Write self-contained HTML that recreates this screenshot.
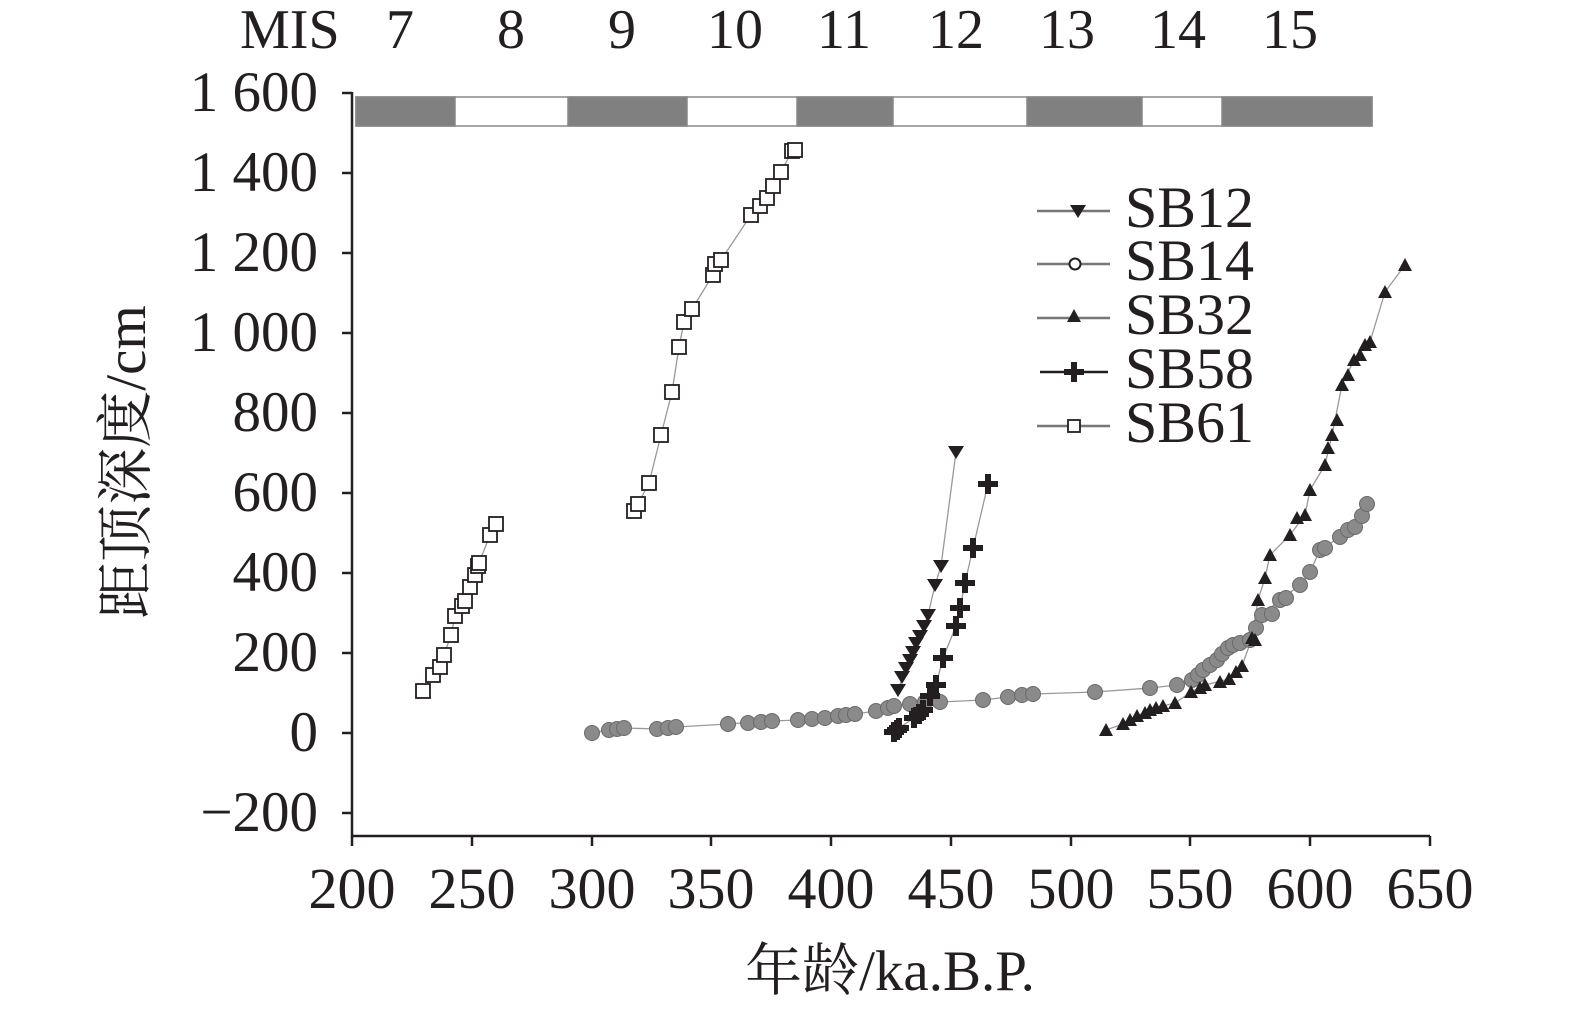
<!DOCTYPE html>
<html><head><meta charset="utf-8"><style>body{margin:0;background:#fff}svg{display:block}text{font-family:"Liberation Serif","Noto Serif CJK SC",serif;fill:#231f20}</style></head><body>
<svg width="1575" height="1015" viewBox="0 0 1575 1015">
<g font-size="56">
<text x="240" y="48">MIS</text>
<text x="400" y="48" text-anchor="middle">7</text><text x="511" y="48" text-anchor="middle">8</text><text x="622" y="48" text-anchor="middle">9</text><text x="735" y="48" text-anchor="middle">10</text><text x="844" y="48" text-anchor="middle">11</text><text x="956" y="48" text-anchor="middle">12</text><text x="1067" y="48" text-anchor="middle">13</text><text x="1178" y="48" text-anchor="middle">14</text><text x="1290" y="48" text-anchor="middle">15</text>
</g>
<g stroke="#888" stroke-width="1.5">
<rect x="356" y="97" width="1016" height="29" fill="#fff"/>
<rect x="356" y="97" width="99" height="29" fill="#808080"/>
<rect x="568" y="97" width="119" height="29" fill="#808080"/>
<rect x="797" y="97" width="96" height="29" fill="#808080"/>
<rect x="1027" y="97" width="115" height="29" fill="#808080"/>
<rect x="1222" y="97" width="150" height="29" fill="#808080"/>
</g>
<g stroke="#231f20" stroke-width="2.5" fill="none">
<path d="M352,92V836H1430"/>
<path d="M352,93h-10M352,173h-10M352,253h-10M352,333h-10M352,413h-10M352,493h-10M352,573h-10M352,653h-10M352,733h-10M352,813h-10"/>
<path d="M352,836v10M472,836v10M592,836v10M711,836v10M831,836v10M951,836v10M1071,836v10M1190,836v10M1310,836v10M1430,836v10"/>
</g>
<g font-size="57" text-anchor="end">
<text x="318" y="111">1 600</text><text x="318" y="191">1 400</text><text x="318" y="271">1 200</text><text x="318" y="351">1 000</text><text x="318" y="431">800</text><text x="318" y="511">600</text><text x="318" y="591">400</text><text x="318" y="671">200</text><text x="318" y="751">0</text><text x="318" y="831">−200</text>
</g>
<g font-size="58" text-anchor="middle">
<text x="352" y="908">200</text><text x="472" y="908">250</text><text x="592" y="908">300</text><text x="711" y="908">350</text><text x="831" y="908">400</text><text x="951" y="908">450</text><text x="1071" y="908">500</text><text x="1190" y="908">550</text><text x="1310" y="908">600</text><text x="1430" y="908">650</text>
<text x="890" y="990" font-size="57">年龄/ka.B.P.</text>
</g>
<text transform="translate(145,462) rotate(-90)" font-size="57" text-anchor="middle">距顶深度/cm</text>
<defs>
<symbol id="sq" overflow="visible"><rect x="-7" y="-7" width="14" height="14" fill="#fff" stroke="#231f20" stroke-width="1.8"/></symbol>
<symbol id="ci" overflow="visible"><circle r="7.5" fill="#8a8a8a" stroke="#6a6a6a" stroke-width="1"/></symbol>
<symbol id="td" overflow="visible"><path d="M-8,-6H8L0,7Z" fill="#231f20"/></symbol>
<symbol id="tu" overflow="visible"><path d="M-7,6H7L0,-7Z" fill="#231f20"/></symbol>
<symbol id="pl" overflow="visible"><path d="M-3,-10h6v7h7v6h-7v7h-6v-7h-7v-6h7Z" fill="#231f20"/></symbol>
</defs>
<g fill="none" stroke="#999" stroke-width="1.3">
<polyline points="423,691 433,675 440,667 444,655 451,635 455,616 462,606 465,601 470,587 475,575 478,566 479,563 490,535 496,524"/>
<polyline points="634,511 638,504 649,483 661,435 672,392 679,347 684,322 692,309 713,275 715,264 721,260 751,215 760,206 767,198 773,186 781,172 792,151 795,150"/>
<polyline points="592,733 609,730 624,728 657,729 676,727 728,724 772,721 798,720 838,716 855,714 876,711 894,706 910,704 940,702 983,700 1033,694 1095,692 1150,688 1177,685 1192,680 1210,665 1228,648 1250,640 1262,615 1280,600 1300,585 1310,572 1320,550 1340,537 1355,527 1367,504"/>
<polyline points="898,690 906,668 913,652 920,636 928,615 935,585 941,566 956,452"/>
<polyline points="894,732 899,728 914,718 923,710 930,696 936,685 943,658 956,626 960,608 965,583 973,548 988,484"/>
<polyline points="1106,730 1123,724 1137,716 1150,710 1163,706 1175,703 1191,692 1205,685 1229,679 1242,666 1252,638 1258,600 1265,578 1270,555 1290,535 1305,515 1310,490 1325,465 1332,435 1342,385 1354,360 1365,345 1370,342 1385,292 1405,265"/>
</g>
<g>
<use href="#ci" x="592" y="733"/><use href="#ci" x="609" y="730"/><use href="#ci" x="617" y="729"/><use href="#ci" x="624" y="728"/><use href="#ci" x="657" y="729"/><use href="#ci" x="668" y="728"/><use href="#ci" x="676" y="727"/><use href="#ci" x="728" y="724"/><use href="#ci" x="748" y="723"/><use href="#ci" x="761" y="722"/><use href="#ci" x="772" y="721"/><use href="#ci" x="798" y="720"/><use href="#ci" x="812" y="719"/><use href="#ci" x="825" y="718"/><use href="#ci" x="838" y="716"/><use href="#ci" x="846" y="715"/><use href="#ci" x="855" y="714"/><use href="#ci" x="876" y="711"/><use href="#ci" x="888" y="708"/><use href="#ci" x="894" y="706"/><use href="#ci" x="910" y="704"/><use href="#ci" x="925" y="702"/><use href="#ci" x="940" y="702"/><use href="#ci" x="983" y="700"/><use href="#ci" x="1008" y="697"/><use href="#ci" x="1022" y="695"/><use href="#ci" x="1033" y="694"/><use href="#ci" x="1095" y="692"/><use href="#ci" x="1150" y="688"/><use href="#ci" x="1177" y="685"/><use href="#ci" x="1192" y="680"/><use href="#ci" x="1198" y="675"/><use href="#ci" x="1203" y="670"/><use href="#ci" x="1210" y="665"/><use href="#ci" x="1217" y="660"/><use href="#ci" x="1222" y="654"/><use href="#ci" x="1228" y="648"/><use href="#ci" x="1233" y="645"/><use href="#ci" x="1240" y="643"/><use href="#ci" x="1250" y="640"/><use href="#ci" x="1256" y="628"/><use href="#ci" x="1262" y="615"/><use href="#ci" x="1272" y="614"/><use href="#ci" x="1280" y="600"/><use href="#ci" x="1286" y="598"/><use href="#ci" x="1300" y="585"/><use href="#ci" x="1310" y="572"/><use href="#ci" x="1320" y="550"/><use href="#ci" x="1325" y="548"/><use href="#ci" x="1340" y="537"/><use href="#ci" x="1348" y="530"/><use href="#ci" x="1355" y="527"/><use href="#ci" x="1362" y="516"/><use href="#ci" x="1367" y="504"/>
</g>
<g>
<use href="#sq" x="423" y="691"/><use href="#sq" x="433" y="675"/><use href="#sq" x="440" y="667"/><use href="#sq" x="444" y="655"/><use href="#sq" x="451" y="635"/><use href="#sq" x="455" y="616"/><use href="#sq" x="462" y="606"/><use href="#sq" x="465" y="601"/><use href="#sq" x="470" y="587"/><use href="#sq" x="475" y="575"/><use href="#sq" x="478" y="566"/><use href="#sq" x="479" y="563"/><use href="#sq" x="490" y="535"/><use href="#sq" x="496" y="524"/>
<use href="#sq" x="634" y="511"/><use href="#sq" x="638" y="504"/><use href="#sq" x="649" y="483"/><use href="#sq" x="661" y="435"/><use href="#sq" x="672" y="392"/><use href="#sq" x="679" y="347"/><use href="#sq" x="684" y="322"/><use href="#sq" x="692" y="309"/><use href="#sq" x="713" y="275"/><use href="#sq" x="715" y="264"/><use href="#sq" x="721" y="260"/><use href="#sq" x="751" y="215"/><use href="#sq" x="760" y="206"/><use href="#sq" x="767" y="198"/><use href="#sq" x="773" y="186"/><use href="#sq" x="781" y="172"/><use href="#sq" x="792" y="151"/><use href="#sq" x="795" y="150"/>
<use href="#td" x="898" y="690"/><use href="#td" x="902" y="677"/><use href="#td" x="906" y="668"/><use href="#td" x="910" y="660"/><use href="#td" x="913" y="652"/><use href="#td" x="916" y="643"/><use href="#td" x="920" y="636"/><use href="#td" x="924" y="626"/><use href="#td" x="928" y="615"/><use href="#td" x="935" y="585"/><use href="#td" x="941" y="566"/><use href="#td" x="956" y="452"/>
<use href="#pl" x="894" y="732"/><use href="#pl" x="897" y="730"/><use href="#pl" x="899" y="728"/><use href="#pl" x="914" y="718"/><use href="#pl" x="919" y="714"/><use href="#pl" x="923" y="710"/><use href="#pl" x="930" y="696"/><use href="#pl" x="936" y="685"/><use href="#pl" x="943" y="658"/><use href="#pl" x="956" y="626"/><use href="#pl" x="960" y="608"/><use href="#pl" x="965" y="583"/><use href="#pl" x="973" y="548"/><use href="#pl" x="988" y="484"/>
<use href="#tu" x="1106" y="730"/><use href="#tu" x="1123" y="724"/><use href="#tu" x="1130" y="720"/><use href="#tu" x="1137" y="716"/><use href="#tu" x="1145" y="713"/><use href="#tu" x="1150" y="710"/><use href="#tu" x="1156" y="708"/><use href="#tu" x="1163" y="706"/><use href="#tu" x="1175" y="703"/><use href="#tu" x="1191" y="692"/><use href="#tu" x="1200" y="688"/><use href="#tu" x="1205" y="685"/><use href="#tu" x="1220" y="682"/><use href="#tu" x="1229" y="679"/><use href="#tu" x="1236" y="672"/><use href="#tu" x="1242" y="666"/><use href="#tu" x="1252" y="638"/><use href="#tu" x="1255" y="640"/><use href="#tu" x="1258" y="600"/><use href="#tu" x="1265" y="578"/><use href="#tu" x="1270" y="555"/><use href="#tu" x="1290" y="535"/><use href="#tu" x="1297" y="518"/><use href="#tu" x="1305" y="515"/><use href="#tu" x="1310" y="490"/><use href="#tu" x="1325" y="465"/><use href="#tu" x="1328" y="448"/><use href="#tu" x="1332" y="435"/><use href="#tu" x="1337" y="420"/><use href="#tu" x="1342" y="385"/><use href="#tu" x="1348" y="375"/><use href="#tu" x="1354" y="360"/><use href="#tu" x="1360" y="355"/><use href="#tu" x="1365" y="345"/><use href="#tu" x="1370" y="342"/><use href="#tu" x="1385" y="292"/><use href="#tu" x="1405" y="265"/>
</g>
<g stroke="#777" stroke-width="2.5">
<path d="M1037,211H1110M1037,264H1110M1037,318H1110M1037,426H1110"/>
<path d="M1040,372H1108" stroke="#231f20"/>
</g>
<use href="#td" x="1078" y="211"/>
<circle cx="1075" cy="264" r="5.5" fill="#fff" stroke="#231f20" stroke-width="2"/>
<use href="#tu" x="1074" y="316"/>
<use href="#pl" x="1074" y="372"/>
<rect x="1068" y="420" width="12" height="12" fill="#fff" stroke="#231f20" stroke-width="1.8"/>
<g font-size="58">
<text x="1125" y="227">SB12</text><text x="1125" y="280">SB14</text><text x="1125" y="334">SB32</text><text x="1125" y="388">SB58</text><text x="1125" y="442">SB61</text>
</g>
</svg>
</body></html>
